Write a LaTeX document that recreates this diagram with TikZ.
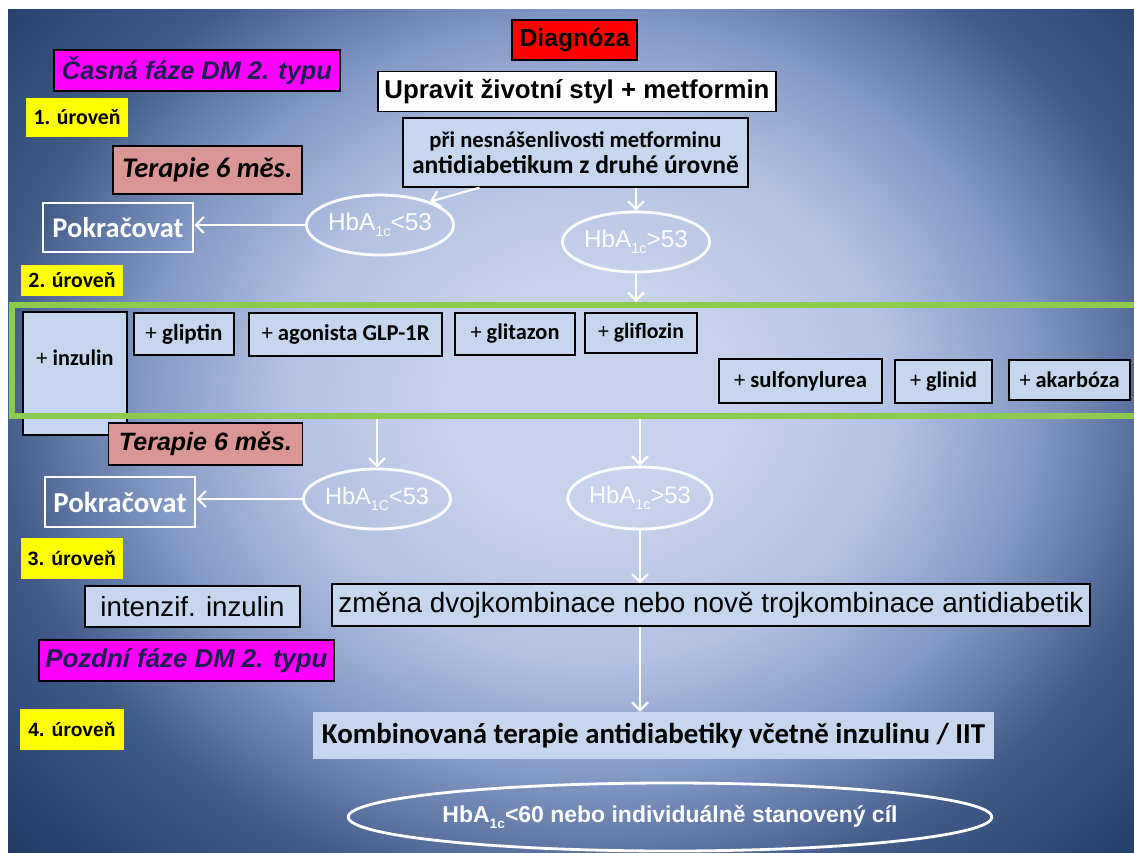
\documentclass[tikz,border=0pt]{standalone}
\usepackage{fontspec}
\setmainfont{Liberation Sans}
\newfontfamily\calfont{Carlito}
\usepackage{graphicx}
\usetikzlibrary{arrows.meta,shapes.geometric}
\newcommand{\fitw}[2]{\resizebox{#1pt}{!}{#2}}
\newcommand{\hsub}[1]{\raisebox{-0.45ex}{\fontsize{6}{7}\selectfont #1}}
\definecolor{bgA}{HTML}{C7D2EC}
\definecolor{bgB}{HTML}{B2C1E2}
\definecolor{bgC}{HTML}{8298C4}
\definecolor{bgD}{HTML}{425C8A}
\definecolor{bgE}{HTML}{2A4470}
\definecolor{bgF}{HTML}{1B3258}
\definecolor{lightbl}{HTML}{C6D6EE}
\definecolor{salmon}{HTML}{D99694}
\definecolor{grn}{HTML}{8CCB4E}
\definecolor{navytxt}{HTML}{1E1E50}
\definecolor{mgnt}{HTML}{FF00FF}
\definecolor{ylwc}{HTML}{FFFF00}
\definecolor{redc}{HTML}{FF0000}
\pgfdeclareradialshading{slidebg}{\pgfpoint{0bp}{0bp}}{color(0bp)=(bgA); color(6bp)=(bgA); color(13bp)=(bgB); color(19bp)=(bgC); color(25bp)=(bgD); color(31bp)=(bgE); color(36bp)=(bgF); color(50bp)=(bgF)}
\begin{document}
\begin{tikzpicture}[x=1pt,y=-1pt,
  sz/.style 2 args={minimum width=#1pt,minimum height=#2pt},
  box/.style={draw=black,line width=1.2pt,inner sep=0pt,anchor=center},
  bluebox/.style={box,fill=lightbl},
  ylw/.style={fill=ylwc,inner sep=0pt,font=\bfseries},
  wbox/.style={draw=white,line width=2.6pt,inner sep=0pt,text=white,font=\calfont\bfseries},
  ell/.style={ellipse,draw=white,line width=2.8pt,inner sep=0pt,text=white},
  arr/.style={draw=white,line width=2.2pt,-{Straight Barb[length=8pt,width=16pt]}},
  drug/.style={bluebox,font=\calfont}
]
\useasboundingbox (0,0) rectangle (1134,853);
\fill[white] (0,0) rectangle (1134,853);
\begin{scope}
  \clip (8,10) rectangle (1134,853);
  \shade[shading=slidebg] (0,-100) rectangle (1180,900);
\end{scope}

% level 1
\node[box,fill=redc,sz={125}{40}] (diag) at (574.5,40) {\fitw{110}{\bfseries Diagnóza}};
\node[box,fill=white,sz={398}{40}] (upr) at (577,91.5) {\fitw{385}{\bfseries Upravit životní styl + metformin}};
\node[bluebox,sz={345}{69},align=center,font=\calfont\bfseries] (pri) at (575.5,152.5)
  {\fitw{292}{při nesnášenlivosti metforminu}\\[4pt]\fitw{327}{antidiabetikum z druhé úrovně}};
\node[box,fill=mgnt,sz={286}{41},text=navytxt] (casna) at (197,70.5) {\fitw{270}{\bfseries\itshape Časná fáze DM 2. typu}};
\node[ylw,sz={102}{39}] (ur1) at (77,117.5) {\fitw{87}{\calfont\bfseries 1. úroveň}};
\node[box,fill=salmon,sz={189}{48}] (ter1) at (207.5,170) {\fitw{170}{\calfont\bfseries\itshape Terapie 6 měs.}};
\node[wbox,sz={150}{49}] (pok1) at (118,227.5) {\fitw{131}{Pokračovat}};
\node[ell,sz={130}{60}] (e1) at (380,225) {\fitw{104}{HbA\hsub{1c}<53}};
\node[ell,sz={128}{60}] (e2) at (636,242) {\fitw{104}{HbA\hsub{1c}>53}};

% level 2
\node[ylw,sz={102}{31}] (ur2) at (72,280) {\fitw{87}{\calfont\bfseries 2. úroveň}};
\node[bluebox,sz={104}{123}] (inzbox) at (75,373.5) {};
\node[font=\calfont,inner sep=0pt] (inz) at (75,358) {\fitw{77}{+ \textbf{inzulin}}};
\node[drug,sz={100}{42}] (glip) at (184,334) {\fitw{77}{+ \textbf{gliptin}}};
\node[drug,sz={193}{43}] (agon) at (345.5,334.5) {\fitw{168}{+ \textbf{agonista GLP-1R}}};
\node[drug,sz={120}{42}] (glit) at (515,334) {\fitw{89}{+ \textbf{glitazon}}};
\node[drug,sz={112}{40}] (glif) at (641,333) {\fitw{86}{+ \textbf{gliflozin}}};
\node[drug,sz={163}{44}] (sulf) at (800.5,381) {\fitw{133}{+ \textbf{sulfonylurea}}};
\node[drug,sz={97}{43}] (glin) at (943.5,381.5) {\fitw{67}{+ \textbf{glinid}}};
\node[drug,sz={121}{40}] (akar) at (1069.5,380) {\fitw{100}{+ \textbf{akarbóza}}};
\node[draw=grn,line width=6pt,inner sep=0pt,sz={1128}{111}] (grp) at (576,360.5) {};

\node[box,fill=salmon,sz={194}{42}] (ter2) at (205.5,444) {\fitw{173}{\bfseries\itshape Terapie 6 měs.}};
\node[ell,sz={130}{60}] (e3) at (377,499) {\fitw{104}{HbA\hsub{1C}<53}};
\node[ell,sz={126}{62}] (e4) at (640,498) {\fitw{102}{HbA\hsub{1c}>53}};
\node[wbox,sz={150}{50}] (pok2) at (120,502) {\fitw{133}{Pokračovat}};

% level 3
\node[ylw,sz={102}{41}] (ur3) at (72,558.5) {\fitw{88}{3. úroveň}};
\node[bluebox,sz={215}{41}] (intz) at (192.5,606.5) {\fitw{184}{intenzif. inzulin}};
\node[bluebox,sz={758}{42}] (zmena) at (711,605) {\fitw{745}{změna dvojkombinace nebo nově trojkombinace antidiabetik}};
\node[box,fill=mgnt,sz={295}{41},text=navytxt] (pozd) at (186.5,660.5) {\fitw{282}{\bfseries\itshape Pozdní fáze DM 2. typu}};

% level 4
\node[ylw,sz={104}{41}] (ur4) at (72,729.5) {\fitw{87}{4. úroveň}};
\node[fill=lightbl,inner sep=0pt,sz={681}{47}] (komb) at (653.5,735.5) {\fitw{663}{\calfont\bfseries Kombinovaná terapie antidiabetiky včetně inzulinu / IIT}};
\node[ell,sz={522}{68}] (fin) at (670,817) {\fitw{455}{\bfseries HbA\hsub{1c}<60 nebo individuálně stanovený cíl}};

% connectors
\draw[arr] ([xshift=-96pt]pri.south) -- (e1.25);
\draw[arr] (pri.south -| e2.north) -- (e2.north);
\draw[arr] (e1.west) -- (e1.west -| pok1.east);
\draw[arr] (e2.south) -- (e2.south |- grp.north);
\draw[arr] (grp.south -| e3.north) -- (e3.north);
\draw[arr] (grp.south -| e4.north) -- (e4.north);
\draw[arr] (e3.west) -- (e3.west -| pok2.east);
\draw[arr] (e4.south) -- (e4.south |- zmena.north);
\draw[arr] (zmena.south -| e4.south) -- (komb.north -| e4.south);
\end{tikzpicture}
\end{document}
